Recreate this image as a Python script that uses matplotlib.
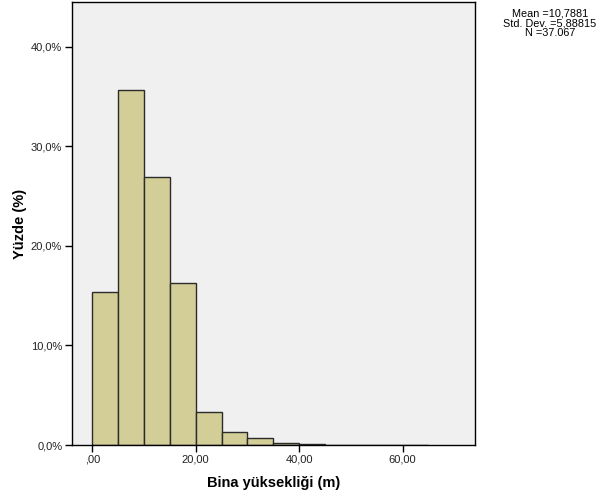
import matplotlib
matplotlib.use("Agg")
import matplotlib.pyplot as plt
from matplotlib.ticker import FuncFormatter, FixedLocator

plt.rcParams['font.family'] = ['Liberation Sans', 'DejaVu Sans']

# Histogram of building heights: bin edges (m) and percentage per bin
bin_edges = [0, 5, 10, 15, 20, 25, 30, 35, 40, 45, 50, 55, 60, 65]
percents = [15.4, 35.7, 26.9, 16.25, 3.3, 1.3, 0.67, 0.2, 0.13, 0.05, 0.04, 0.04, 0.03]

x_ticks = [0, 20, 40, 60]
x_tick_labels = [",00", "20,00", "40,00", "60,00"]
y_ticks = [0, 10, 20, 30, 40]

stats_text = "Mean =10,7881\nStd. Dev. =5,88815\nN =37.067"

fig = plt.figure(figsize=(6.0, 4.99), dpi=100)
ax = fig.add_axes([0.12, 0.1082, 0.6717, 0.888])
ax.set_facecolor("#f0f0f0")

lefts = bin_edges[:-1]
widths = [b - a for a, b in zip(bin_edges[:-1], bin_edges[1:])]
ax.bar(lefts, percents, width=widths, align="edge",
       color="#d3ce97", edgecolor="#2b2b2b", linewidth=1.0)

ax.set_xlim(-3.9, 74)
ax.set_ylim(0, 44.5)

ax.xaxis.set_major_locator(FixedLocator(x_ticks))
ax.set_xticklabels(x_tick_labels)
ax.yaxis.set_major_locator(FixedLocator(y_ticks))
ax.yaxis.set_major_formatter(FuncFormatter(lambda v, p: f"{v:.1f}%".replace(".", ",")))

ax.tick_params(axis="both", direction="out", length=5, width=1.0,
               labelsize=8, colors="black", labelcolor="#222222", pad=2)
for s in ax.spines.values():
    s.set_color("black")
    s.set_linewidth(1.0)

ax.set_xlabel("Bina yüksekliği (m)", fontsize=10.5, fontweight="bold", labelpad=8)
ax.set_ylabel("Yüzde (%)", fontsize=10.5, fontweight="bold", labelpad=3)

fig.text(550 / 600, 1 - 8 / 499, stats_text, ha="center", va="top",
         fontsize=7.8, multialignment="center", linespacing=1.0)

fig.savefig("out.png", dpi=100, facecolor="white")
